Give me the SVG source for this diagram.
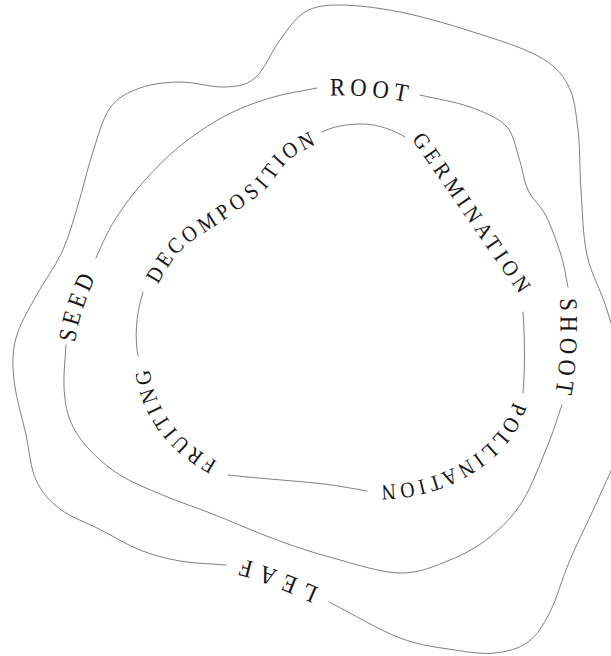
<svg xmlns="http://www.w3.org/2000/svg" xmlns:xlink="http://www.w3.org/1999/xlink" width="611" height="656" viewBox="0 0 611 656">
<style>
.ring{fill:none;stroke:#707070;stroke-width:0.9;stroke-linecap:round}
.lbl{font-family:"Liberation Serif","DejaVu Serif",serif;fill:#161616;text-anchor:middle;dominant-baseline:central}
.mid{font-size:25px;letter-spacing:6px}
.inn{font-size:22px;letter-spacing:5px}
</style>
<defs>
<path id="tp-root" d="M317,88 C345,84 390,88 420,96"/>
<path id="tp-shoot" d="M568,287 C571,320 570,370 562,405"/>
<path id="tp-seed" d="M66,345 C68,320 80,285 96,258"/>
<path id="tp-leaf" d="M329,602 C300,590 260,570 226,565"/>
<path id="tp-germ" d="M413,127 L531,297"/>
<path id="tp-poll" d="M524,388 C518,440 470,482 400,492 L365,494"/>
<path id="tp-fruit" d="M226,475 C185,455 145,425 140,357"/>
<path id="tp-decomp" d="M145,290 C155,275 162.5,257.8 175,245 S206.2,223 220,213 S247.2,195 258,185 S274.3,161.8 285,153 S309.7,139 322,132"/>
</defs>
<rect width="611" height="656" fill="#ffffff"/>
<g id="outer-ring">
<path class="ring" d="M226,565 C210.7,563.7 194.3,563.5 180,561 S153.2,555.2 140,550 S114.3,536.8 101,530 S70.8,517.3 60,509 S41.7,492.3 36,480 S29.7,451.7 26,435 S15.7,396.2 14,380 S12.3,352 16,338 S28.3,310.3 36,296 S55,267.2 62,252 S73,221.2 78,205 S86.7,171.2 92,155 S102,119.2 110,108 S128.3,92.3 140,88 S165.8,82.2 180,82 S212.5,87.7 225,87 S245.8,85.8 255,78 S271.7,51 280,40 S295,17.8 305,12 S324.2,5 340,5 S378.3,7.7 400,12 S447,23.7 470,31 S521.7,47 538,56 S561.3,72.7 568,85 S575.8,112.5 578,130 S579.5,169.2 581,190 S582.7,235 587,255 S600.7,289.2 607,310 S622.5,358.3 625,380 S626.2,420.8 622,440 S608.7,475 600,495 S578.3,540.5 570,560 S557,598.3 550,612 S537.2,635.2 528,642 S507.2,651.7 495,653 S470.8,652.5 455,650 S421,646 400,638 S352.7,614 329,602"/>
</g>
<g id="middle-ring">
<path class="ring" d="M420,95 C436.7,99 455.7,101.8 470,107 S497.8,117.5 506,126 S515.3,147.3 519,158 S523.5,180.3 528,190 S540.5,205.2 546,216 S557.3,243.2 561,255 S565.7,276.3 568,287"/>
<path class="ring" d="M562,405 C557,419 553.7,430.8 547,447 S531.5,487 522,502 S502,527.3 490,537 S465,554 450,560 S419.5,573.3 400,573 S353.5,563.5 333,558 S297.5,547.5 277,540 S228.7,520.3 210,513 S180,502.3 165,496 S132.8,483 120,475 S96.3,457.2 88,448 S74,430.2 70,420 S64.7,399.5 64,387 S65.3,359 66,345"/>
<path class="ring" d="M96,258 C99.3,250.7 102,243.7 106,236 S113.5,221.3 120,212 S135,191 145,180 S166.7,156.7 180,146 S210,124 225,116 S254.7,102.7 270,98 S301.3,91.3 317,88"/>
</g>
<g id="inner-ring">
<path class="ring" d="M322,132 C332,127 345,124 362,124 S395,131 405,137"/>
<path class="ring" d="M523,312 C525,340 525,370 523,393"/>
<path class="ring" d="M367,491 C350,488 335,485 315,483 S255,478 228,475"/>
<path class="ring" d="M138,356 C135,340 135,318 143,292"/>
</g>
<g id="label-root"><text class="lbl mid" dx="3"><textPath xlink:href="#tp-root" href="#tp-root" startOffset="50%" textLength="84" lengthAdjust="spacingAndGlyphs">ROOT</textPath></text></g>
<g id="label-shoot"><text class="lbl mid" dx="3"><textPath xlink:href="#tp-shoot" href="#tp-shoot" startOffset="50%" textLength="102" lengthAdjust="spacingAndGlyphs">SHOOT</textPath></text></g>
<g id="label-leaf"><text class="lbl mid" style="letter-spacing:9px" dx="4.5"><textPath xlink:href="#tp-leaf" href="#tp-leaf" startOffset="50%" textLength="89" lengthAdjust="spacingAndGlyphs">LEAF</textPath></text></g>
<g id="label-seed"><text class="lbl mid"><textPath xlink:href="#tp-seed" href="#tp-seed" startOffset="45%" textLength="75" lengthAdjust="spacingAndGlyphs">SEED</textPath></text></g>
<g id="label-germination"><text class="lbl inn" dx="2.5"><textPath xlink:href="#tp-germ" href="#tp-germ" startOffset="50%" textLength="194" lengthAdjust="spacingAndGlyphs">GERMINATION</textPath></text></g>
<g id="label-pollination"><text class="lbl inn" dx="2.5"><textPath xlink:href="#tp-poll" href="#tp-poll" startOffset="50%" textLength="180" lengthAdjust="spacingAndGlyphs">POLLINATION</textPath></text></g>
<g id="label-fruiting"><text class="lbl inn" dx="2.5"><textPath xlink:href="#tp-fruit" href="#tp-fruit" startOffset="50%" textLength="131" lengthAdjust="spacingAndGlyphs">FRUITING</textPath></text></g>
<g id="label-decomposition"><text class="lbl inn" dx="2.5"><textPath xlink:href="#tp-decomp" href="#tp-decomp" startOffset="50%" textLength="224" lengthAdjust="spacingAndGlyphs">DECOMPOSITION</textPath></text></g>
</svg>
